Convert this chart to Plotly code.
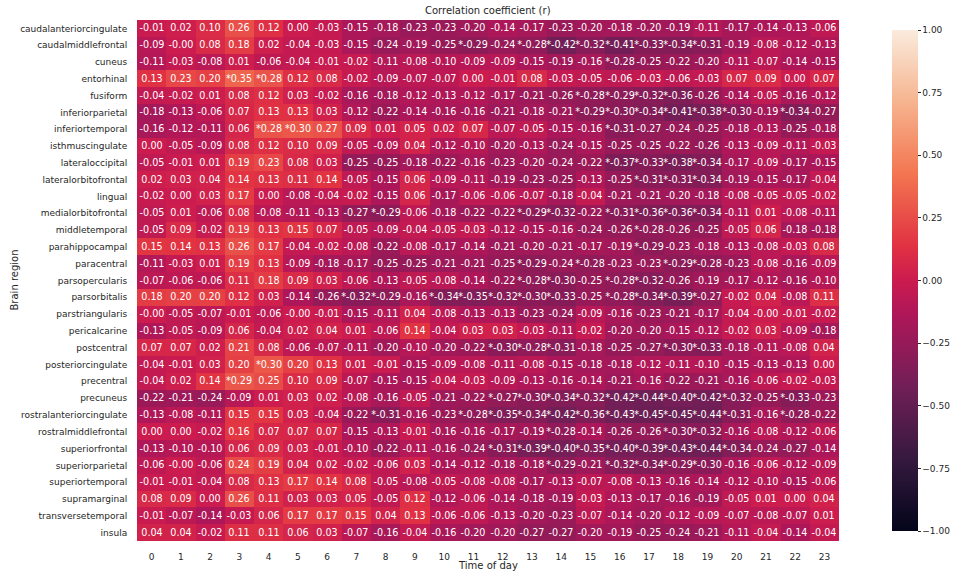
import plotly.graph_objects as go

regions = ["caudalanteriorcingulate", "caudalmiddlefrontal", "cuneus", "entorhinal", "fusiform",
           "inferiorparietal", "inferiortemporal", "isthmuscingulate", "lateraloccipital",
           "lateralorbitofrontal", "lingual", "medialorbitofrontal", "middletemporal",
           "parahippocampal", "paracentral", "parsopercularis", "parsorbitalis", "parstriangularis",
           "pericalcarine", "postcentral", "posteriorcingulate", "precentral", "precuneus",
           "rostralanteriorcingulate", "rostralmiddlefrontal", "superiorfrontal", "superiorparietal",
           "superiortemporal", "supramarginal", "transversetemporal", "insula"]
hours = list(range(24))

r_caudalanteriorcingulate = [-0.01, 0.02, 0.10, 0.26, 0.12, 0.00, -0.03, -0.15, -0.18, -0.23, -0.23, -0.20, -0.14, -0.17, -0.23, -0.20, -0.18, -0.20, -0.19, -0.11, -0.17, -0.14, -0.13, -0.06]
r_caudalmiddlefrontal = [-0.09, -0.00, 0.08, 0.18, 0.02, -0.04, -0.03, -0.15, -0.24, -0.19, -0.25, -0.29, -0.24, -0.28, -0.42, -0.32, -0.41, -0.33, -0.34, -0.31, -0.19, -0.08, -0.12, -0.13]
r_cuneus = [-0.11, -0.03, -0.08, 0.01, -0.06, -0.04, -0.01, -0.02, -0.11, -0.08, -0.10, -0.09, -0.09, -0.15, -0.19, -0.16, -0.28, -0.25, -0.22, -0.20, -0.11, -0.07, -0.14, -0.15]
r_entorhinal = [0.13, 0.23, 0.20, 0.35, 0.28, 0.12, 0.08, -0.02, -0.09, -0.07, -0.07, 0.00, -0.01, 0.08, -0.03, -0.05, -0.06, -0.03, -0.06, -0.03, 0.07, 0.09, 0.00, 0.07]
r_fusiform = [-0.04, -0.02, 0.01, 0.08, 0.12, 0.03, -0.02, -0.16, -0.18, -0.12, -0.13, -0.12, -0.17, -0.21, -0.26, -0.28, -0.29, -0.32, -0.36, -0.26, -0.14, -0.05, -0.16, -0.12]
r_inferiorparietal = [-0.18, -0.13, -0.06, 0.07, 0.13, 0.13, 0.03, -0.12, -0.22, -0.14, -0.16, -0.16, -0.21, -0.18, -0.21, -0.29, -0.30, -0.34, -0.41, -0.38, -0.30, -0.19, -0.34, -0.27]
r_inferiortemporal = [-0.16, -0.12, -0.11, 0.06, 0.28, 0.30, 0.27, 0.09, 0.01, 0.05, 0.02, 0.07, -0.07, -0.05, -0.15, -0.16, -0.31, -0.27, -0.24, -0.25, -0.18, -0.13, -0.25, -0.18]
r_isthmuscingulate = [0.00, -0.05, -0.09, 0.08, 0.12, 0.10, 0.09, -0.05, -0.09, 0.04, -0.12, -0.10, -0.20, -0.13, -0.24, -0.15, -0.25, -0.25, -0.22, -0.26, -0.13, -0.09, -0.11, -0.03]
r_lateraloccipital = [-0.05, -0.01, 0.01, 0.19, 0.23, 0.08, 0.03, -0.25, -0.25, -0.18, -0.22, -0.16, -0.23, -0.20, -0.24, -0.22, -0.37, -0.33, -0.38, -0.34, -0.17, -0.09, -0.17, -0.15]
r_lateralorbitofrontal = [0.02, 0.03, 0.04, 0.14, 0.13, 0.11, 0.14, -0.05, -0.15, 0.06, -0.09, -0.11, -0.19, -0.23, -0.25, -0.13, -0.25, -0.31, -0.31, -0.34, -0.19, -0.15, -0.17, -0.04]
r_lingual = [-0.02, 0.00, 0.03, 0.17, 0.00, -0.08, -0.04, -0.02, -0.15, 0.06, -0.17, -0.06, -0.06, -0.07, -0.18, -0.04, -0.21, -0.21, -0.20, -0.18, -0.08, -0.05, -0.05, -0.02]
r_medialorbitofrontal = [-0.05, 0.01, -0.06, 0.08, -0.08, -0.11, -0.13, -0.27, -0.29, -0.06, -0.18, -0.22, -0.22, -0.29, -0.32, -0.22, -0.31, -0.36, -0.36, -0.34, -0.11, 0.01, -0.08, -0.11]
r_middletemporal = [-0.05, 0.09, -0.02, 0.19, 0.13, 0.15, 0.07, -0.05, -0.09, -0.04, -0.05, -0.03, -0.12, -0.15, -0.16, -0.24, -0.26, -0.28, -0.26, -0.25, -0.05, 0.06, -0.18, -0.18]
r_parahippocampal = [0.15, 0.14, 0.13, 0.26, 0.17, -0.04, -0.02, -0.08, -0.22, -0.08, -0.17, -0.14, -0.21, -0.20, -0.21, -0.17, -0.19, -0.29, -0.23, -0.18, -0.13, -0.08, -0.03, 0.08]
r_paracentral = [-0.11, -0.03, 0.01, 0.19, 0.13, -0.09, -0.18, -0.17, -0.25, -0.25, -0.21, -0.21, -0.25, -0.29, -0.24, -0.28, -0.23, -0.23, -0.29, -0.28, -0.23, -0.08, -0.16, -0.09]
r_parsopercularis = [-0.07, -0.06, -0.06, 0.11, 0.18, 0.09, 0.03, -0.06, -0.13, -0.05, -0.08, -0.14, -0.22, -0.28, -0.30, -0.25, -0.28, -0.32, -0.26, -0.19, -0.17, -0.12, -0.16, -0.10]
r_parsorbitalis = [0.18, 0.20, 0.20, 0.12, 0.03, -0.14, -0.26, -0.32, -0.29, -0.16, -0.34, -0.35, -0.32, -0.30, -0.33, -0.25, -0.28, -0.34, -0.39, -0.27, -0.02, 0.04, -0.08, 0.11]
r_parstriangularis = [-0.00, -0.05, -0.07, -0.01, -0.06, -0.00, -0.01, -0.15, -0.11, 0.04, -0.08, -0.13, -0.13, -0.23, -0.24, -0.09, -0.16, -0.23, -0.21, -0.17, -0.04, -0.00, -0.01, -0.02]
r_pericalcarine = [-0.13, -0.05, -0.09, 0.06, -0.04, 0.02, 0.04, 0.01, -0.06, 0.14, -0.04, 0.03, 0.03, -0.03, -0.11, -0.02, -0.20, -0.20, -0.15, -0.12, -0.02, 0.03, -0.09, -0.18]
r_postcentral = [0.07, 0.07, 0.02, 0.21, 0.08, -0.06, -0.07, -0.11, -0.20, -0.10, -0.20, -0.22, -0.30, -0.28, -0.31, -0.18, -0.25, -0.27, -0.30, -0.33, -0.18, -0.11, -0.08, 0.04]
r_posteriorcingulate = [-0.04, -0.01, 0.03, 0.20, 0.30, 0.20, 0.13, 0.01, -0.01, -0.15, -0.09, -0.08, -0.11, -0.08, -0.15, -0.18, -0.18, -0.12, -0.11, -0.10, -0.15, -0.13, -0.13, 0.00]
r_precentral = [-0.04, 0.02, 0.14, 0.29, 0.25, 0.10, 0.09, -0.07, -0.15, -0.15, -0.04, -0.03, -0.09, -0.13, -0.16, -0.14, -0.21, -0.16, -0.22, -0.21, -0.16, -0.06, -0.02, -0.03]
r_precuneus = [-0.22, -0.21, -0.24, -0.09, 0.01, 0.03, 0.02, -0.08, -0.16, -0.05, -0.21, -0.22, -0.27, -0.30, -0.34, -0.32, -0.42, -0.44, -0.40, -0.42, -0.32, -0.25, -0.33, -0.23]
r_rostralanteriorcingulate = [-0.13, -0.08, -0.11, 0.15, 0.15, 0.03, -0.04, -0.22, -0.31, -0.16, -0.23, -0.28, -0.35, -0.34, -0.42, -0.36, -0.43, -0.45, -0.45, -0.44, -0.31, -0.16, -0.28, -0.22]
r_rostralmiddlefrontal = [0.00, 0.00, -0.02, 0.16, 0.07, 0.07, 0.07, -0.15, -0.13, -0.01, -0.16, -0.16, -0.17, -0.19, -0.28, -0.14, -0.26, -0.26, -0.30, -0.32, -0.16, -0.08, -0.12, -0.06]
r_superiorfrontal = [-0.13, -0.10, -0.10, 0.06, 0.09, 0.03, -0.01, -0.10, -0.22, -0.11, -0.16, -0.24, -0.31, -0.39, -0.40, -0.35, -0.40, -0.39, -0.43, -0.44, -0.34, -0.24, -0.27, -0.14]
r_superiorparietal = [-0.06, -0.00, -0.06, 0.24, 0.19, 0.04, 0.02, -0.02, -0.06, 0.03, -0.14, -0.12, -0.18, -0.18, -0.29, -0.21, -0.32, -0.34, -0.29, -0.30, -0.16, -0.06, -0.12, -0.09]
r_superiortemporal = [-0.01, -0.01, -0.04, 0.08, 0.13, 0.17, 0.14, 0.08, -0.05, -0.08, -0.05, -0.08, -0.08, -0.17, -0.13, -0.07, -0.08, -0.13, -0.16, -0.14, -0.12, -0.10, -0.15, -0.06]
r_supramarginal = [0.08, 0.09, 0.00, 0.26, 0.11, 0.03, 0.03, 0.05, -0.05, 0.12, -0.12, -0.06, -0.14, -0.18, -0.19, -0.03, -0.13, -0.17, -0.16, -0.19, -0.05, 0.01, 0.00, 0.04]
r_transversetemporal = [-0.01, -0.07, -0.14, -0.03, 0.06, 0.17, 0.17, 0.15, 0.04, 0.13, -0.06, -0.06, -0.13, -0.20, -0.23, -0.07, -0.14, -0.20, -0.12, -0.09, -0.07, -0.08, -0.07, 0.01]
r_insula = [0.04, 0.04, -0.02, 0.11, 0.11, 0.06, 0.03, -0.07, -0.16, -0.04, -0.16, -0.20, -0.20, -0.27, -0.27, -0.20, -0.19, -0.25, -0.24, -0.21, -0.11, -0.04, -0.14, -0.04]

# hours (column indices) marked significant (*) per region
sig_caudalanteriorcingulate = []
sig_caudalmiddlefrontal = [11, 13, 14, 15, 16, 17, 18, 19]
sig_cuneus = [16]
sig_entorhinal = [3, 4]
sig_fusiform = [15, 16, 17, 18]
sig_inferiorparietal = [15, 16, 17, 18, 19, 20, 22]
sig_inferiortemporal = [4, 5, 16]
sig_isthmuscingulate = []
sig_lateraloccipital = [16, 17, 18, 19]
sig_lateralorbitofrontal = [17, 18, 19]
sig_lingual = []
sig_medialorbitofrontal = [8, 13, 14, 16, 17, 18, 19]
sig_middletemporal = [17]
sig_parahippocampal = [17]
sig_paracentral = [13, 15, 18, 19]
sig_parsopercularis = [13, 14, 16, 17]
sig_parsorbitalis = [7, 8, 10, 11, 12, 13, 14, 16, 17, 18, 19]
sig_parstriangularis = []
sig_pericalcarine = []
sig_postcentral = [12, 13, 14, 18, 19]
sig_posteriorcingulate = [4]
sig_precentral = [3]
sig_precuneus = [12, 13, 14, 15, 16, 17, 18, 19, 20, 22]
sig_rostralanteriorcingulate = [8, 11, 12, 13, 14, 15, 16, 17, 18, 19, 20, 22]
sig_rostralmiddlefrontal = [14, 18, 19]
sig_superiorfrontal = [12, 13, 14, 15, 16, 17, 18, 19, 20]
sig_superiorparietal = [14, 16, 17, 18, 19]
sig_superiortemporal = []
sig_supramarginal = []
sig_transversetemporal = []
sig_insula = []

g = globals()
z = [g["r_" + name] for name in regions]
sig = [g["sig_" + name] for name in regions]

text = []
for row, stars in zip(z, sig):
    text.append([("*" if j in stars else "") + f"{v:.2f}" for j, v in enumerate(row)])

rocket = [[0.0, "#03051a"], [0.143, "#35193e"], [0.286, "#701f57"], [0.429, "#ad1759"],
          [0.5, "#cb1b4f"], [0.571, "#e13342"], [0.714, "#f37651"], [0.857, "#f6b48f"],
          [1.0, "#faebdd"]]

W, H = 972, 574
L, R, T, B = 137, 863, 19.6, 541.4
FONT = "DejaVu Sans"
TXT = "#262626"

fig = go.Figure(go.Heatmap(
    z=z, x=hours, y=regions, text=text, texttemplate="%{text}",
    textfont=dict(family=FONT, size=9.6, color="white"),
    colorscale=rocket, zmin=-1, zmax=1,
    colorbar=dict(x=(907 - L) / (R - L), xanchor="left", y=0.5, yanchor="middle",
                  len=1, lenmode="fraction", thickness=26, thicknessmode="pixels",
                  outlinewidth=0, ticks="outside", ticklen=3, tickcolor=TXT,
                  tickvals=[-1, -0.75, -0.5, -0.25, 0, 0.25, 0.5, 0.75, 1],
                  tickformat=".2f", tickfont=dict(family=FONT, size=9, color=TXT)),
))

fig.update_layout(
    width=W, height=H,
    margin=dict(l=L, r=W - R, t=T, b=H - B, pad=0),
    paper_bgcolor="white", plot_bgcolor="white",
    font=dict(family=FONT, color=TXT),
    xaxis=dict(tickmode="array", tickvals=hours, ticks="outside", ticklen=7,
               tickcolor="rgba(0,0,0,0)", tickfont=dict(size=9, color=TXT),
               showgrid=False, zeroline=False, showline=False),
    yaxis=dict(autorange="reversed", ticks="outside", ticklen=7,
               tickcolor="rgba(0,0,0,0)", tickfont=dict(size=9, color=TXT),
               showgrid=False, zeroline=False, showline=False),
    annotations=[
        dict(text="Correlation coefficient (r)", xref="paper", yref="paper",
             x=0.5, y=1, yshift=9.5, xanchor="center", yanchor="middle", showarrow=False,
             font=dict(family=FONT, size=10, color=TXT)),
        dict(text="Time of day", xref="paper", yref="paper",
             x=0.5, y=0, yshift=-24, xanchor="center", yanchor="middle", showarrow=False,
             font=dict(family=FONT, size=10, color=TXT)),
        dict(text="Brain region", xref="paper", yref="paper", textangle=-90,
             x=0, xshift=-123, y=0.5, xanchor="center", yanchor="middle", showarrow=False,
             font=dict(family=FONT, size=10, color=TXT)),
    ],
)

fig.write_html("out.html", config={"displayModeBar": False},
               post_script="document.body.style.margin='0';")
